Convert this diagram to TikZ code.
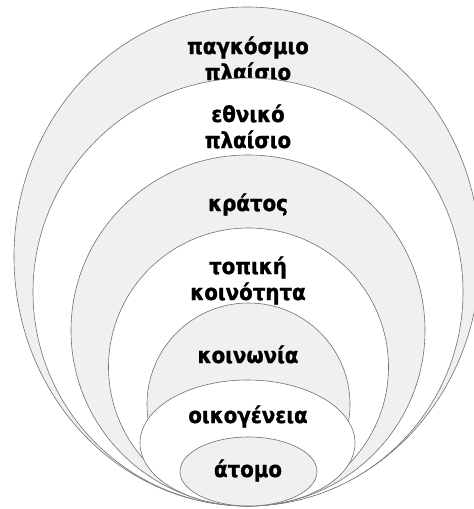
\documentclass[tikz,border=0pt]{standalone}
\usepackage{fontspec}
\newfontfamily\ringfont{DejaVu Sans Condensed Bold}[FakeBold=1.2]
\usetikzlibrary{positioning}
\usepackage{xcolor}
\definecolor{ringgray}{RGB}{240,240,240}
\definecolor{ringline}{RGB}{112,112,112}
\tikzset{ring/.style={draw=ringline, line width=0.6pt}}

\begin{document}
\begin{tikzpicture}[x=1pt,y=-1pt]
\useasboundingbox (0,0) rectangle (474,509);

% ── Nested rings, outermost first; each label before the next ring ───────────
% (base anchor = baseline of the last line)
\foreach \ringname/\ringx/\ringy/\radx/\rady/\ringcol/\liney/\ringtext in {
    world/247/256.5/233/249.5/ringgray/80/{παγκόσμιο\\πλαίσιο},
    nation/248/292/215/214/white/148/{εθνικό\\πλαίσιο},
    state/248/330.5/177/175.5/ringgray/211/{κράτος},
    local/248.5/367/140/139/white/300/{τοπική\\κοινότητα},
    society/248.5/404.5/101.5/101.5/ringgray/363/{κοινωνία},
    family/247.5/443/107.5/63/white/423/{οικογένεια},
    person/248.5/471.5/68.5/34.5/ringgray/477/{άτομο}}
{
  \draw[ring, fill=\ringcol] (\ringx,\ringy) ellipse [x radius=\radx, y radius=\rady];
  \node[font=\fontsize{22}{26}\selectfont\ringfont, align=center, inner sep=0pt,
        anchor=base] (\ringname) at (248,\liney) {\ringtext};
}

\end{tikzpicture}
\end{document}
